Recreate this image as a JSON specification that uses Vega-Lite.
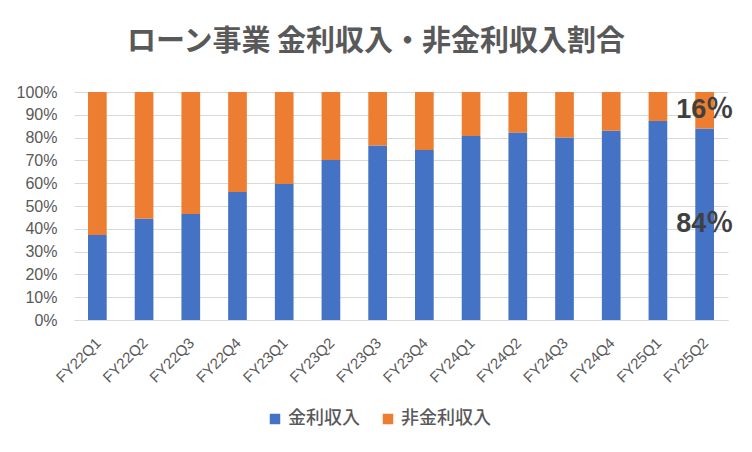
{
  "$schema": "https://vega.github.io/schema/vega-lite/v6.json",
  "width": 654,
  "height": 228,
  "autosize": {"type": "none"},
  "padding": {"left": 74, "top": 92, "right": 24, "bottom": 132},
  "background": "white",
  "title": {
    "text": "ローン事業 金利収入・非金利収入割合",
    "font": "Noto Sans CJK JP",
    "fontSize": 29,
    "fontWeight": "bold",
    "color": "#595959",
    "dx": -25,
    "offset": 27
  },
  "data": {
    "values": [
      {"quarter": "FY22Q1", "type": "金利収入", "value": 37.3},
      {"quarter": "FY22Q1", "type": "非金利収入", "value": 62.7},
      {"quarter": "FY22Q2", "type": "金利収入", "value": 44.4},
      {"quarter": "FY22Q2", "type": "非金利収入", "value": 55.6},
      {"quarter": "FY22Q3", "type": "金利収入", "value": 46.5},
      {"quarter": "FY22Q3", "type": "非金利収入", "value": 53.5},
      {"quarter": "FY22Q4", "type": "金利収入", "value": 56.1},
      {"quarter": "FY22Q4", "type": "非金利収入", "value": 43.9},
      {"quarter": "FY23Q1", "type": "金利収入", "value": 59.6},
      {"quarter": "FY23Q1", "type": "非金利収入", "value": 40.4},
      {"quarter": "FY23Q2", "type": "金利収入", "value": 70.2},
      {"quarter": "FY23Q2", "type": "非金利収入", "value": 29.8},
      {"quarter": "FY23Q3", "type": "金利収入", "value": 76.5},
      {"quarter": "FY23Q3", "type": "非金利収入", "value": 23.5},
      {"quarter": "FY23Q4", "type": "金利収入", "value": 74.6},
      {"quarter": "FY23Q4", "type": "非金利収入", "value": 25.4},
      {"quarter": "FY24Q1", "type": "金利収入", "value": 80.7},
      {"quarter": "FY24Q1", "type": "非金利収入", "value": 19.3},
      {"quarter": "FY24Q2", "type": "金利収入", "value": 82.2},
      {"quarter": "FY24Q2", "type": "非金利収入", "value": 17.8},
      {"quarter": "FY24Q3", "type": "金利収入", "value": 80.0},
      {"quarter": "FY24Q3", "type": "非金利収入", "value": 20.0},
      {"quarter": "FY24Q4", "type": "金利収入", "value": 83.0},
      {"quarter": "FY24Q4", "type": "非金利収入", "value": 17.0},
      {"quarter": "FY25Q1", "type": "金利収入", "value": 87.3},
      {"quarter": "FY25Q1", "type": "非金利収入", "value": 12.7},
      {"quarter": "FY25Q2", "type": "金利収入", "value": 84.0},
      {"quarter": "FY25Q2", "type": "非金利収入", "value": 16.0}
    ]
  },
  "encoding": {
    "x": {
      "field": "quarter",
      "type": "nominal",
      "sort": null,
      "title": null,
      "scale": {"paddingInner": 0.6, "paddingOuter": 0.3},
      "axis": {
        "labelAngle": -45,
        "labelAlign": "right",
        "labelBaseline": "top",
        "labelPadding": 15,
        "labelOffset": -4,
        "labelFont": "Liberation Sans",
        "labelFontSize": 15,
        "labelColor": "#595959",
        "labelOverlap": false,
        "domainColor": "#d9d9d9",
        "ticks": false,
        "grid": false
      }
    }
  },
  "layer": [
    {
      "mark": {"type": "bar"},
      "encoding": {
        "y": {
          "field": "value",
          "type": "quantitative",
          "stack": "zero",
          "title": null,
          "scale": {"domain": [0, 100], "nice": false},
          "axis": {
            "values": [0, 10, 20, 30, 40, 50, 60, 70, 80, 90, 100],
            "labelExpr": "datum.value + '%'",
            "labelFont": "Liberation Sans",
            "labelFontSize": 16,
            "labelColor": "#595959",
            "labelPadding": 17,
            "labelOverlap": false,
            "domain": false,
            "ticks": false,
            "gridColor": "#d9d9d9",
            "gridWidth": 1
          }
        },
        "order": {"field": "type", "sort": "ascending"},
        "color": {
          "field": "type",
          "type": "nominal",
          "scale": {"domain": ["金利収入", "非金利収入"], "range": ["#4472C4", "#ED7D31"]},
          "legend": {
            "title": null,
            "orient": "none",
            "direction": "horizontal",
            "legendX": 192,
            "legendY": 318,
            "symbolType": "square",
            "symbolSize": 110,
            "symbolStrokeWidth": 0,
            "labelFont": "Noto Sans CJK JP",
            "labelFontSize": 18,
            "labelFontWeight": 500,
            "labelColor": "#595959",
            "labelOffset": 4,
            "columnPadding": 19
          }
        }
      }
    },
    {
      "transform": [
        {"stack": "value", "groupby": ["quarter"], "sort": [{"field": "type", "order": "ascending"}], "as": ["v0", "v1"]},
        {"filter": "datum.quarter == 'FY25Q2'"},
        {"calculate": "(datum.v0 + datum.v1) / 2", "as": "mid"},
        {"calculate": "round(datum.value) + '％'", "as": "label"}
      ],
      "mark": {
        "type": "text",
        "font": "Liberation Sans, Noto Sans CJK JP",
        "fontSize": 27,
        "fontWeight": "bold",
        "color": "#404040",
        "baseline": "middle"
      },
      "encoding": {
        "y": {"field": "mid", "type": "quantitative", "axis": null, "scale": {"domain": [0, 100], "nice": false}},
        "text": {"field": "label"}
      }
    }
  ],
  "resolve": {"axis": {"y": "independent"}},
  "config": {
    "view": {"stroke": null}
  }
}
